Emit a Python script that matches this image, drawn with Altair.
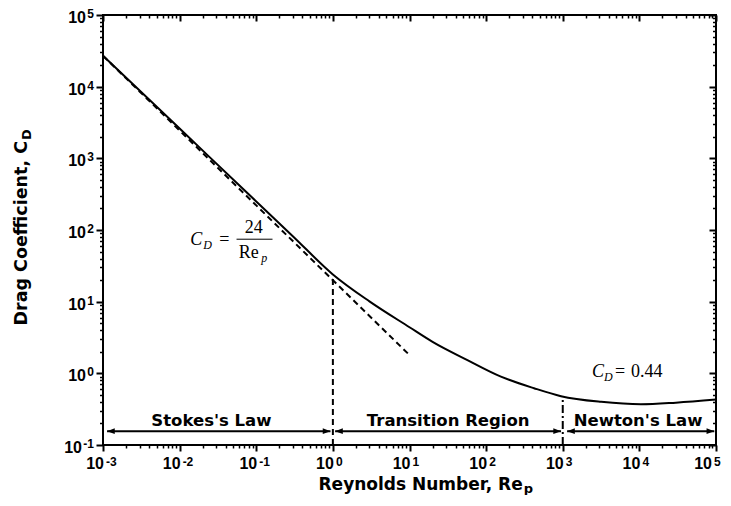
import altair as alt
import pandas as pd

# ---------------- values ----------------
# solid drag-coefficient curve
re_curve = [1e-3, 1e-2, 1e-1, 0.3, 1.0, 3.0, 10.0, 20.0, 57.0, 156.0, 422.0, 950.0, 3170.0, 1.05e4, 3e4, 1e5]
cd_curve = [2.7e4, 2.6e3, 250.0, 82.0, 24.0, 10.1, 4.4, 2.75, 1.53, 0.90, 0.62, 0.48, 0.40, 0.37, 0.39, 0.43]

# dashed Stokes-law line  C_D = 24/Re
re_stokes = [1e-3, 10.0]
cd_stokes = [2.7e4, 1.8]

# region boundaries (vertical lines)
boundary_re = [1.0, 1000.0]
boundary_top = [24.0, 0.47]

# regime arrows
region_names = ["Stokes's Law", "Transition Region", "Newton's Law"]
region_start = [1.13e-3, 1.07, 1140.0]
region_end = [0.93, 950.0, 9.5e4]
region_center = [0.026, 32.0, 9600.0]
arrow_level = 0.156

# axes
x_exponents = [-3, -2, -1, 0, 1, 2, 3, 4, 5]
y_exponents = [-1, 0, 1, 2, 3, 4, 5]
minor_steps = [2, 3, 4, 5, 6, 7, 8, 9]

# annotation anchors (data coordinates)
eq1_anchor = (0.0138, 62.0)
eq1_bar = (0.0553, 0.163, 74.4)
eq2_anchor = (2415.0, 0.887)
xtitle_anchor = 300.0
ytitle_anchor = 100.0

# ---------------- derived tables ----------------
x_major = [10.0 ** e for e in x_exponents]
y_major = [10.0 ** e for e in y_exponents]
x_minor = [k * 10.0 ** e for e in x_exponents[:-1] for k in minor_steps]
y_minor = [k * 10.0 ** e for e in y_exponents[:-1] for k in minor_steps]
x_min, y_min = x_major[0], y_major[0]

W, H = 613, 430
xs = alt.Scale(type="log", domain=[x_major[0], x_major[-1]], nice=False)
ys = alt.Scale(type="log", domain=[y_major[0], y_major[-1]], nice=False)

SANS = "Liberation Sans"
WIDE = "DejaVu Sans"
SERIF = "Liberation Serif"


def ax(orient, values, size, width, offset=0):
    kw = dict(orient=orient, values=values, tickSize=size, tickWidth=width,
              tickColor="black", labels=False, grid=False, domain=False, title=None)
    if offset:
        kw["offset"] = offset
    return alt.Axis(**kw)


def X(field, axis=None):
    return alt.X(f"{field}:Q", scale=xs, axis=axis)


def Y(field, axis=None):
    return alt.Y(f"{field}:Q", scale=ys, axis=axis)


curve_df = pd.DataFrame({"re": re_curve, "cd": cd_curve})
stokes_df = pd.DataFrame({"re": re_stokes, "cd": cd_stokes})
bound_df = pd.DataFrame({"re": boundary_re, "top": boundary_top, "bot": [y_min] * 2})
arrow_df = pd.DataFrame({"name": region_names, "s": region_start, "e": region_end,
                         "c": region_center, "y": [arrow_level] * 3})
xlab_df = pd.DataFrame({"v": x_major, "exp": [str(e) for e in x_exponents], "y": [y_min] * len(x_major),
                        "last": [i == len(x_major) - 1 for i in range(len(x_major))]})
ylab_df = pd.DataFrame({"v": y_major, "exp": [str(e) for e in y_exponents], "x": [x_min] * len(y_major),
                        "e": y_exponents})

layers = []

# solid curve  (bottom/left major axes)
layers.append(alt.Chart(curve_df).mark_line(color="black", strokeWidth=2, interpolate="monotone").encode(
    x=X("re", ax("bottom", x_major, 6, 2)), y=Y("cd", ax("left", y_major, 7, 2))))

# dashed 24/Re line (bottom/left minor axes)
layers.append(alt.Chart(stokes_df).mark_line(color="black", strokeWidth=2, strokeDash=[6, 4]).encode(
    x=X("re", ax("bottom", x_minor, 3, 1.5)), y=Y("cd", ax("left", y_minor, 3.5, 1.5))))

# boundary at Re = 1 (top/right major axes, ticks inward)
layers.append(alt.Chart(bound_df).transform_filter(alt.datum.re < 10).mark_rule(
    color="black", strokeWidth=2, strokeDash=[6, 4]).encode(
    x=X("re", ax("bottom", x_major, 6, 2, offset=-H)),
    y=Y("bot", ax("left", y_major, 7, 2, offset=-W)), y2="top:Q"))

# boundary at Re = 1000 (top/right minor axes)
layers.append(alt.Chart(bound_df).transform_filter(alt.datum.re > 10).mark_rule(
    color="black", strokeWidth=2, strokeDash=[8, 3, 2, 3]).encode(
    x=X("re", ax("bottom", x_minor, 3, 1.5, offset=-H)),
    y=Y("bot", ax("left", y_minor, 3.5, 1.5, offset=-W)), y2="top:Q"))

# arrows
layers.append(alt.Chart(arrow_df).mark_rule(color="black", strokeWidth=2).encode(
    x=X("s"), x2="e:Q", y=Y("y")))
layers.append(alt.Chart(arrow_df).mark_point(
    shape="M0,0L2.2,-0.8L2.2,0.8Z", filled=True, size=49, color="black", opacity=1).encode(
    x=X("s"), y=Y("y")))
layers.append(alt.Chart(arrow_df).mark_point(
    shape="M0,0L-2.2,-0.8L-2.2,0.8Z", filled=True, size=49, color="black", opacity=1).encode(
    x=X("e"), y=Y("y")))
layers.append(alt.Chart(arrow_df).mark_text(
    font=WIDE, fontWeight="bold", fontSize=16.5, align="center", baseline="alphabetic", dy=-5,
    color="black").encode(x=X("c"), y=Y("y"), text="name:N"))

# x tick labels (the last one is nudged to stay inside the page)
for is_last, shift in [(False, 0), (True, -5)]:
    sub = alt.Chart(xlab_df).transform_filter(alt.datum.last == is_last)
    layers.append(sub.mark_text(
        font=SANS, fontWeight="bold", fontSize=16, align="right", baseline="alphabetic", dx=1 + shift, dy=24,
        color="black").encode(x=X("v"), y=Y("y"), text=alt.value("10")))
    layers.append(sub.mark_text(
        font=SANS, fontWeight="bold", fontSize=12, align="left", baseline="alphabetic", dx=3 + shift, dy=21,
        color="black").encode(x=X("v"), y=Y("y"), text="exp:N"))

# y tick labels
layers.append(alt.Chart(ylab_df).mark_text(
    font=SANS, fontWeight="bold", fontSize=12, align="right", baseline="alphabetic", dx=-9, dy=3,
    color="black").encode(x=X("x"), y=Y("v"), text="exp:N"))
layers.append(alt.Chart(ylab_df).transform_filter(alt.datum.e >= 0).mark_text(
    font=SANS, fontWeight="bold", fontSize=16, align="right", baseline="alphabetic", dx=-17, dy=8,
    color="black").encode(x=X("x"), y=Y("v"), text=alt.value("10")))
layers.append(alt.Chart(ylab_df).transform_filter(alt.datum.e < 0).mark_text(
    font=SANS, fontWeight="bold", fontSize=16, align="right", baseline="alphabetic", dx=-21, dy=8,
    color="black").encode(x=X("x"), y=Y("v"), text=alt.value("10")))

# axis titles
xt_df = pd.DataFrame({"x": [xtitle_anchor], "y": [y_min]})
layers.append(alt.Chart(xt_df).mark_text(
    font=WIDE, fontWeight="bold", fontSize=17, align="right", baseline="alphabetic", dy=45,
    color="black").encode(x=X("x"), y=Y("y"), text=alt.value("Reynolds Number, Re")))
layers.append(alt.Chart(xt_df).mark_text(
    font=WIDE, fontWeight="bold", fontSize=13, align="left", baseline="alphabetic", dx=1, dy=48,
    color="black").encode(x=X("x"), y=Y("y"), text=alt.value("p")))

yt_df = pd.DataFrame({"x": [x_min], "y": [ytitle_anchor]})
layers.append(alt.Chart(yt_df).mark_text(
    font=WIDE, fontWeight="bold", fontSize=17.5, align="right", baseline="alphabetic", angle=270,
    dx=89, dy=-76, color="black").encode(x=X("x"), y=Y("y"), text=alt.value("Drag Coefficient, C")))
layers.append(alt.Chart(yt_df).mark_text(
    font=WIDE, fontWeight="bold", fontSize=13, align="left", baseline="alphabetic", angle=270,
    dx=90, dy=-72, color="black").encode(x=X("x"), y=Y("y"), text=alt.value("D")))

# equation C_D = 24 / Re_p
e1 = pd.DataFrame({"x": [eq1_anchor[0]], "y": [eq1_anchor[1]]})
pieces1 = [("C", "italic", 18, "left", 0, 0), ("D", "italic", 12, "left", 13, 4),
           ("=", "normal", 18, "center", 34, 0), ("24", "normal", 18, "center", 63.5, -12),
           ("Re", "normal", 18, "center", 58.5, 13), ("p", "italic", 12, "left", 71, 17)]
for txt, style, fs, al, dx, dy in pieces1:
    layers.append(alt.Chart(e1).mark_text(
        font=SERIF, fontStyle=style, fontSize=fs, align=al, baseline="alphabetic", dx=dx, dy=dy,
        color="black").encode(x=X("x"), y=Y("y"), text=alt.value(txt)))
bar_df = pd.DataFrame({"x": [eq1_bar[0]], "x2": [eq1_bar[1]], "y": [eq1_bar[2]]})
layers.append(alt.Chart(bar_df).mark_rule(color="black", strokeWidth=1).encode(
    x=X("x"), x2="x2:Q", y=Y("y")))

# equation C_D = 0.44
e2 = pd.DataFrame({"x": [eq2_anchor[0]], "y": [eq2_anchor[1]]})
pieces2 = [("C", "italic", 18, "left", 0, 0), ("D", "italic", 12, "left", 12, 4),
           ("=", "normal", 18, "center", 28, 0), ("0.44", "normal", 18, "left", 39, 0)]
for txt, style, fs, al, dx, dy in pieces2:
    layers.append(alt.Chart(e2).mark_text(
        font=SERIF, fontStyle=style, fontSize=fs, align=al, baseline="alphabetic", dx=dx, dy=dy,
        color="black").encode(x=X("x"), y=Y("y"), text=alt.value(txt)))

chart = alt.layer(*layers).resolve_axis(x="independent", y="independent").properties(
    width=W, height=H,
    autosize=alt.AutoSizeParams(type="none"),
    padding={"left": 95, "top": 7, "right": 7, "bottom": 50},
    background="white",
).configure_view(stroke="black", strokeWidth=2)

chart.save("out.html", embed_options={"renderer": "svg", "actions": False})
